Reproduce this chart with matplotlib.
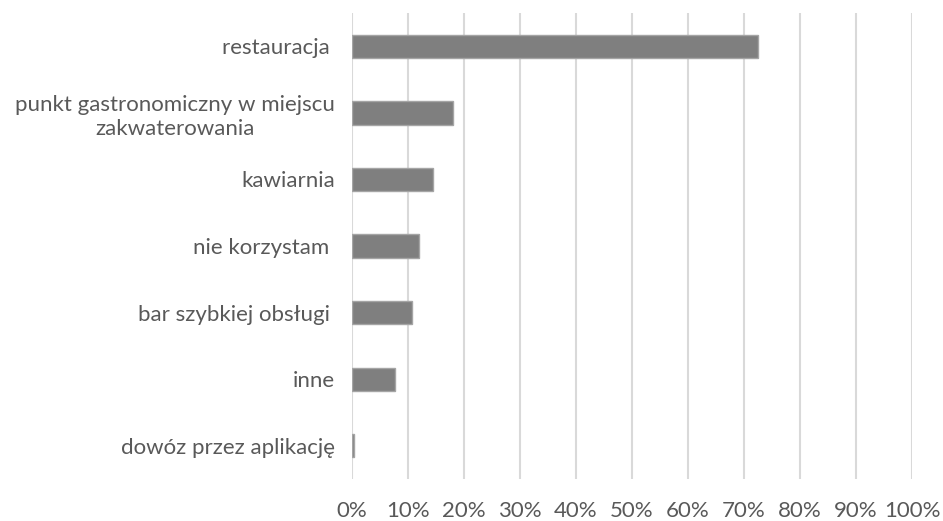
import matplotlib
matplotlib.use("Agg")
import matplotlib.pyplot as plt
from matplotlib.ticker import PercentFormatter

categories = [
    "restauracja ",
    "punkt gastronomiczny w miejscu\nzakwaterowania",
    "kawiarnia",
    "nie korzystam ",
    "bar szybkiej obsługi ",
    "inne",
    "dowóz przez aplikację",
]
shares = [72.5, 18.0, 14.4, 12.0, 10.7, 7.6, 0.3]
x_ticks = list(range(0, 101, 10))

plt.rcParams["font.family"] = ["Lato", "DejaVu Sans"]
text_color = "#595959"

fig = plt.figure(figsize=(9.43, 5.21), dpi=100)
ax = fig.add_axes([0.3733, 0.0806, 0.5938, 0.8944])

y = list(range(len(categories)))
ax.barh(y, shares, height=0.35, color="#7f7f7f", edgecolor="#a5a5a5",
        linewidth=1.0, zorder=3)

ax.set_xlim(0, 100)
ax.set_ylim(len(categories) - 0.5, -0.5)
ax.set_xticks(x_ticks)
ax.xaxis.set_major_formatter(PercentFormatter(decimals=0))
ax.set_yticks(y)
ax.set_yticklabels(categories, multialignment="center", linespacing=1.25)

ax.grid(axis="x", color="#d9d9d9", linewidth=1.5, zorder=0)
for s in ax.spines.values():
    s.set_visible(False)

ax.tick_params(axis="x", length=0, pad=16, labelsize=16, labelcolor=text_color)
ax.tick_params(axis="y", length=0, pad=12, labelsize=16, labelcolor=text_color)

fig.savefig("out.png", dpi=100, facecolor="white")
